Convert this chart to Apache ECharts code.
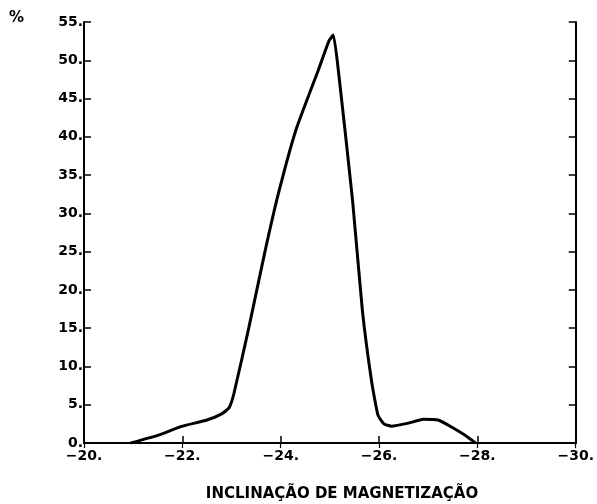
<!DOCTYPE html>
<html>
<head>
<meta charset="utf-8">
<script src="https://cdn.jsdelivr.net/npm/echarts@6/dist/echarts.min.js"></script>
<style>
  html, body { margin: 0; padding: 0; background: #fff; }
  #chart { width: 597px; height: 504px; }
</style>
</head>
<body>
<div id="chart"></div>
<script>
// Distribution of magnetization inclination (%)
const inclination = [-20.95, -21.5, -22.0, -22.5, -22.8, -22.95, -23.05, -23.35, -23.68, -23.95, -24.31, -24.77, -24.98, -25.07, -25.17, -25.46, -25.66, -25.85, -25.98, -26.1, -26.25, -26.6, -26.9, -27.2, -27.5, -27.75, -27.96];
const percent     = [0, 1.0, 2.2, 3.0, 3.8, 4.6, 6.5, 15.0, 25.0, 32.5, 40.9, 48.8, 52.5, 53.3, 48.8, 31.8, 17.4, 8.0, 3.6, 2.5, 2.2, 2.6, 3.1, 3.0, 2.0, 1.0, 0];

const xTicks = [-20, -22, -24, -26, -28, -30];
const yTicks = [0, 5, 10, 15, 20, 25, 30, 35, 40, 45, 50, 55];

const font = '"DejaVu Sans", "Liberation Sans", Arial, sans-serif';
const labelStyle = { color: '#000', fontFamily: font, fontWeight: 'bold', fontSize: 14 };

const chart = echarts.init(document.getElementById('chart'));

chart.setOption({
  backgroundColor: '#fff',
  animation: false,
  grid: { left: 84, right: 12, top: 22, bottom: 61 },
  title: {
    text: 'INCLINAÇÃO DE MAGNETIZAÇÃO',
    left: 337, textAlign: 'center', top: 482,
    textStyle: { color: '#000', fontFamily: font, fontWeight: 'bold', fontSize: 15 }
  },
  graphic: [{
    type: 'text', left: 9, top: 11,
    style: { text: '%', fill: '#000', font: 'bold 15px ' + font }
  }],
  xAxis: [{
    type: 'value', min: -30, max: -20, interval: 2, inverse: true,
    axisLine: { lineStyle: { color: '#000', width: 2 } },
    axisTick: { inside: true, length: 7, lineStyle: { color: '#000', width: 1.5 } },
    splitLine: { show: false },
    axisLabel: Object.assign({ margin: 6, formatter: v => String(v).replace('-', '\u2212') + '.' }, labelStyle)
  }, {
    type: 'value', position: 'top', min: -30, max: -20, interval: 2, inverse: true,
    axisLine: { lineStyle: { color: '#000', width: 1.5 } },
    axisTick: { inside: true, length: 5, lineStyle: { color: '#000', width: 1.2 } },
    splitLine: { show: false },
    axisLabel: { show: false }
  }],
  yAxis: [{
    type: 'value', min: 0, max: 55, interval: 5,
    axisLine: { show: true, lineStyle: { color: '#000', width: 2 } },
    axisTick: { show: true, inside: true, length: 7, lineStyle: { color: '#000', width: 1.5 } },
    splitLine: { show: false },
    axisLabel: Object.assign({ margin: 1, formatter: v => v + '.' }, labelStyle)
  }, {
    type: 'value', position: 'right', min: 0, max: 55, interval: 5,
    axisLine: { show: true, lineStyle: { color: '#000', width: 2 } },
    axisTick: { show: true, inside: true, length: 7, lineStyle: { color: '#000', width: 1.5 } },
    splitLine: { show: false },
    axisLabel: { show: false }
  }],
  series: [{
    type: 'line',
    data: inclination.map((x, i) => [x, percent[i]]),
    smooth: 0.15,
    symbol: 'none',
    lineStyle: { color: '#000', width: 3 },
    z: 5
  }]
});
</script>
</body>
</html>
